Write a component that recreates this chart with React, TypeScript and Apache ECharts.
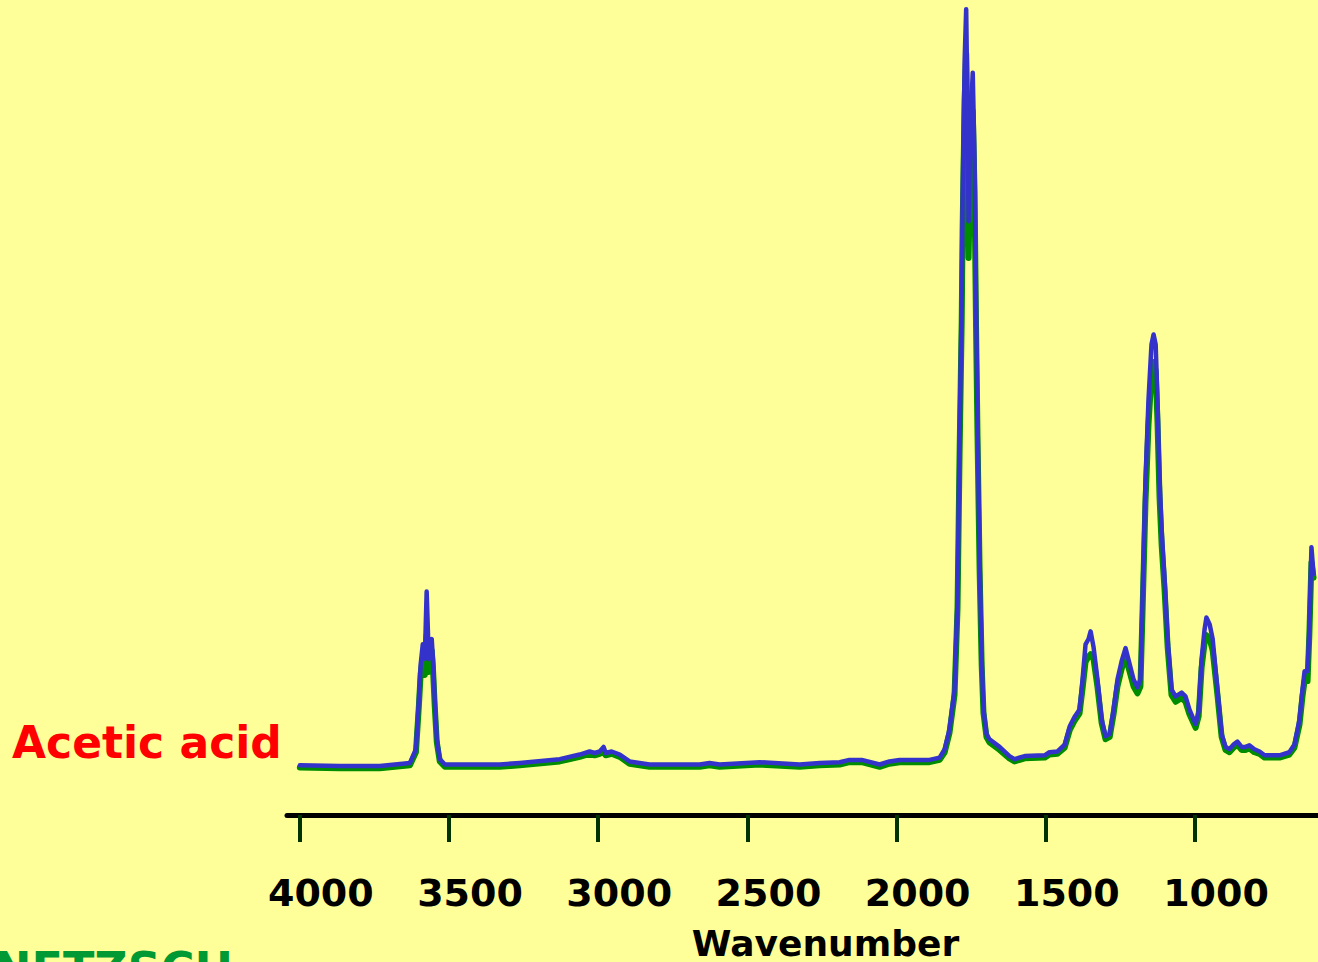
import React, { useEffect, useRef } from "react";
import * as echarts from "echarts";

// Wavenumber (cm-1) sampling points
const wavenumbers = [
  4000, 3866, 3732, 3631, 3611, 3601, 3595, 3588, 3581, 3578, 3575, 3571, 3568, 3565, 3558, 3554, 3548, 3541, 3531, 3514,
  3330, 3263, 3129, 3062, 3029, 3012, 2995, 2982, 2975, 2955, 2928, 2895, 2828, 2660, 2627, 2593, 2459, 2325, 2258, 2191,
  2158, 2117, 2057, 2024, 1990, 1890, 1856, 1839, 1823, 1806, 1796, 1789, 1782, 1779, 1772, 1767, 1764, 1759, 1752, 1745,
  1739, 1734, 1729, 1722, 1715, 1709, 1699, 1689, 1655, 1622, 1605, 1571, 1504, 1488, 1461, 1437, 1420, 1404, 1387, 1377,
  1367, 1357, 1350, 1340, 1327, 1313, 1300, 1286, 1273, 1260, 1246, 1233, 1219, 1206, 1193, 1183, 1176, 1166, 1156, 1146,
  1139, 1132, 1126, 1119, 1112, 1102, 1092, 1079, 1065, 1045, 1032, 1019, 1005, 998, 988, 978, 968, 962, 951, 941,
  925, 911, 898, 885, 871, 858, 844, 831, 818, 801, 784, 767, 717, 684, 667, 650, 640, 633, 623, 617,
  610, 603,
];

// Blue spectrum (absorbance, arbitrary units)
const blueValues = [
  0.0, -0.001, -0.001, 0.003, 0.021, 0.086, 0.132, 0.158, 0.139, 0.184, 0.227, 0.178, 0.139, 0.158, 0.165, 0.139, 0.086, 0.034, 0.008, 0.001,
  0.001, 0.003, 0.008, 0.014, 0.018, 0.016, 0.018, 0.024, 0.016, 0.018, 0.014, 0.005, 0.001, 0.001, 0.003, 0.001, 0.004, 0.001, 0.003, 0.004,
  0.007, 0.007, 0.001, 0.005, 0.007, 0.007, 0.01, 0.021, 0.047, 0.099, 0.217, 0.43, 0.609, 0.74, 0.923, 0.988, 0.897, 0.711, 0.844, 0.905,
  0.792, 0.609, 0.452, 0.269, 0.139, 0.073, 0.041, 0.034, 0.024, 0.012, 0.008, 0.012, 0.013, 0.017, 0.018, 0.027, 0.051, 0.063, 0.073, 0.112,
  0.158, 0.165, 0.175, 0.154, 0.112, 0.06, 0.038, 0.041, 0.073, 0.112, 0.136, 0.153, 0.132, 0.112, 0.102, 0.112, 0.217, 0.374, 0.478, 0.55,
  0.563, 0.55, 0.478, 0.374, 0.308, 0.243, 0.165, 0.099, 0.09, 0.095, 0.09, 0.073, 0.06, 0.054, 0.071, 0.139, 0.178, 0.193, 0.184, 0.165,
  0.099, 0.041, 0.024, 0.021, 0.027, 0.031, 0.024, 0.024, 0.026, 0.021, 0.018, 0.013, 0.013, 0.017, 0.027, 0.06, 0.099, 0.123, 0.123, 0.178,
  0.285, 0.25,
];

// Green spectrum (absorbance, arbitrary units)
const greenValues = [
  -0.003, -0.004, -0.004, 0.0, 0.017, 0.078, 0.12, 0.14, 0.118, 0.15, 0.17, 0.135, 0.122, 0.14, 0.15, 0.128, 0.078, 0.03, 0.005, -0.002,
  -0.002, 0.0, 0.005, 0.011, 0.015, 0.013, 0.015, 0.017, 0.013, 0.015, 0.011, 0.002, -0.002, -0.002, 0.0, -0.002, 0.001, -0.002, 0.0, 0.001,
  0.004, 0.004, -0.002, 0.002, 0.004, 0.004, 0.007, 0.017, 0.042, 0.092, 0.205, 0.41, 0.58, 0.7, 0.87, 0.93, 0.85, 0.663, 0.8, 0.855,
  0.75, 0.575, 0.43, 0.255, 0.13, 0.068, 0.037, 0.03, 0.02, 0.009, 0.005, 0.009, 0.01, 0.014, 0.015, 0.023, 0.046, 0.058, 0.068, 0.1,
  0.135, 0.142, 0.145, 0.138, 0.102, 0.055, 0.034, 0.037, 0.067, 0.103, 0.126, 0.142, 0.122, 0.103, 0.094, 0.103, 0.2, 0.345, 0.445, 0.51,
  0.527, 0.515, 0.45, 0.35, 0.288, 0.228, 0.155, 0.092, 0.083, 0.088, 0.083, 0.067, 0.055, 0.049, 0.064, 0.128, 0.16, 0.17, 0.165, 0.15,
  0.092, 0.037, 0.02, 0.017, 0.023, 0.027, 0.02, 0.02, 0.022, 0.017, 0.015, 0.01, 0.01, 0.014, 0.023, 0.053, 0.09, 0.11, 0.11, 0.17,
  0.265, 0.245,
];

const tickValues = [4000, 3500, 3000, 2500, 2000, 1500, 1000];
const axisTitle = "Wavenumber";
const sampleLabel = "Acetic acid";
const logoText = "NETZSCH";

export default function App() {
  const ref = useRef<HTMLDivElement>(null);

  useEffect(() => {
    if (!ref.current) return;
    const chart = echarts.init(ref.current, null, { renderer: "svg" });
    const green = wavenumbers.map((w, i) => [w, greenValues[i]]);
    const blue = wavenumbers.map((w, i) => [w, blueValues[i]]);
    const font = "'DejaVu Sans', Verdana, sans-serif";

    chart.setOption({
      animation: false,
      backgroundColor: "#FFFF99",
      grid: {
        left: 287,
        right: 0,
        top: 0,
        bottom: 147,
        containLabel: false,
        outerBoundsMode: "none",
      },
      xAxis: {
        type: "value",
        inverse: true,
        min: 588,
        max: 4043,
        name: axisTitle,
        nameLocation: "middle",
        nameGap: 110,
        nameTextStyle: {
          fontFamily: font,
          fontWeight: "bold",
          fontSize: 36,
          color: "#000",
          padding: [0, 0, 0, 46],
        },
        axisLine: { show: true, onZero: false, lineStyle: { color: "#000", width: 5 } },
        axisTick: {
          show: true,
          inside: false,
          length: 27,
          customValues: tickValues,
          lineStyle: { color: "#003300", width: 4 },
        },
        axisLabel: {
          show: true,
          customValues: tickValues,
          formatter: (v: number) => String(v),
          margin: 59,
          fontFamily: font,
          fontWeight: "bold",
          fontSize: 38,
          color: "#000",
          padding: [0, 0, 0, 42],
        },
        splitLine: { show: false },
      },
      yAxis: {
        type: "value",
        min: -0.065,
        max: 1.0,
        show: false,
        splitLine: { show: false },
      },
      series: [
        {
          name: "green",
          type: "line",
          data: green,
          showSymbol: false,
          symbol: "none",
          lineStyle: { color: "#008C00", width: 6, join: "round", cap: "round" },
          z: 2,
        },
        {
          name: "blue",
          type: "line",
          data: blue,
          showSymbol: false,
          symbol: "none",
          lineStyle: { color: "#3333CC", width: 4.5, join: "round", cap: "round" },
          z: 3,
        },
      ],
      graphic: [
        {
          type: "text",
          left: 12,
          top: 720,
          style: {
            text: sampleLabel,
            fill: "#FF0000",
            font: `bold 44px ${font}`,
          },
        },
        {
          type: "text",
          x: -7,
          y: 946,
          style: {
            text: logoText,
            fill: "#009933",
            font: `bold 46px ${font}`,
            textVerticalAlign: "top",
          },
        },
      ],
    });

    return () => chart.dispose();
  }, []);

  return (
    <div
      ref={ref}
      style={{ position: "fixed", left: 0, top: 0, width: 1318, height: 962 }}
    />
  );
}
